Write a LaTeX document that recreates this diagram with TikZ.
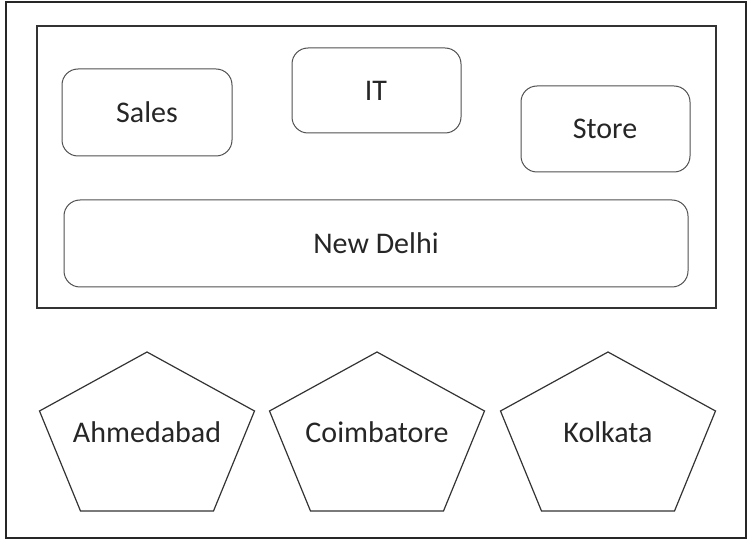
\documentclass[tikz,border=0pt]{standalone}
\usepackage{fontspec}
\setmainfont{Carlito}
\definecolor{txt}{HTML}{262626}
\definecolor{boxline}{HTML}{505050}
\begin{document}
\begin{tikzpicture}[x=1pt,y=-1pt,
  lbl/.style={text=txt,font=\fontsize{30}{34}\selectfont,inner sep=0pt},
  rbox/.style={draw=boxline,line width=1pt,rounded corners=16pt},
  pent/.style={draw=black!80,line width=1.2pt,line join=miter}]
\useasboundingbox (0,0) rectangle (748,540);
\draw[line width=2.2pt,black!85] (6,2) rectangle (746,538);
\draw[line width=1.3pt,black!80] (37,26) rectangle (716,308);
% rounded boxes
\draw[rbox] (62,69) rectangle (232,156);
\node[lbl] (sales) at (147,112) {Sales};
\draw[rbox] (292,48) rectangle (461,133);
\node[lbl] (it) at (376,91) {IT};
\draw[rbox] (521,86) rectangle (690,172);
\node[lbl] (store) at (605,129) {Store};
\draw[rbox] (64,200) rectangle (688,287);
\node[lbl] (delhi) at (376,243) {New Delhi};
% pentagons
\foreach \cx/\name/\txt in {147/ahm/Ahmedabad,377/coi/Coimbatore,608/kol/Kolkata}{
  \draw[pent] (\cx,352) -- (\cx+107.5,411) -- (\cx+66.5,511) -- (\cx-66.5,511) -- (\cx-107.5,411) -- cycle;
  \node[lbl] (\name) at (\cx,432) {\txt};
}
\end{tikzpicture}
\end{document}
